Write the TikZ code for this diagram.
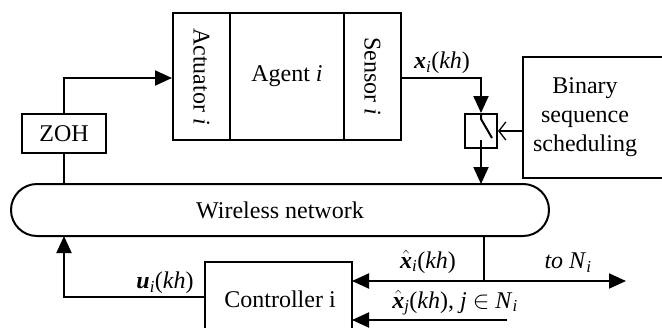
\documentclass[tikz,border=0pt]{standalone}
\usepackage{fontspec}
\setmainfont{Liberation Serif}
\usetikzlibrary{arrows.meta}
\newcommand{\bxi}{\textbf{\textit{x}}}
\newcommand{\bhx}{$\hat{\hbox{\bxi}}$}
\begin{document}
\begin{tikzpicture}[x=1pt,y=-1pt,
  every node/.style={font=\fontsize{24}{27}\selectfont, inner sep=0pt},
  blk/.style={draw, line width=2pt, rectangle},
  ln/.style={line width=2pt},
  arr/.style={ln, -{Triangle[length=17pt,width=15pt]}},
  barr/.style={line width=1.3pt, -{Straight Barb[length=7pt,width=18pt]}},
  lbl/.style={font=\fontsize{24}{27}\selectfont}]
\useasboundingbox (0,0) rectangle (662,327);
% agent group
\node[blk, minimum width=57pt, minimum height=127pt] (act) at (201.5,76.5) {};
\node[rotate=-90] (acttxt) at (act.center) {Actuator \textit{i}};
\node[blk, minimum width=114pt, minimum height=127pt] (agent) at (287,76.5) {Agent \textit{i}};
\node[blk, minimum width=57pt, minimum height=127pt] (sens) at (372.5,76.5) {};
\node[rotate=-90] (senstxt) at (sens.center) {Sensor \textit{i}};
% ZOH
\node[blk, minimum width=84pt, minimum height=39pt] (zoh) at (64,133.5) {ZOH};
% network
\draw[ln, rounded corners=26pt] (11,184) rectangle (549,236);
\node (net) at (280,210) {Wireless network};
\coordinate (nettopL) at (64,184);
\coordinate (nettopR) at (481,184);
\coordinate (netbotL) at (64,236);
\coordinate (netbotR) at (484,236);
% switch
\node[blk, minimum width=32pt, minimum height=34pt] (sw) at (481,131) {};
\coordinate (swa) at (481,119);
\coordinate (swb) at (492,138);
\draw[ln] (sw.north) -- (swa) -- (swb);
% binary scheduling
\draw[line width=2pt] (670,57) -- (523,57) -- (523,178) -- (670,178);
\coordinate (binw) at (523,131);
\node[align=center, font=\fontsize{24}{29}\selectfont] (bin) at (585,117) {Binary\\sequence\\scheduling};
% controller
\draw[line width=2pt] (205,340) -- (205,262) -- (352,262) -- (352,340);
\node (ctrl) at (280,299) {Controller i};
\coordinate (ctrlin1) at (352,281);
\coordinate (ctrlin2) at (352,320);
\coordinate (ctrlout) at (205,297);
% connectors
\draw[arr] (zoh.north) |- (act.west |- 0,78);
\draw[ln] (zoh.south) -- (nettopL);
\draw[arr] (sens.east |- 0,78) -| (sw.north);
\draw[barr] (binw) -- (sw.east);
\draw[arr] (481,140) -- (nettopR);
\coordinate (junc) at (484,281);
\coordinate (toN) at (626,281);
\coordinate (xjstart) at (507,320);
\draw[ln] (netbotR) -- (junc);
\draw[arr] (junc) -- (ctrlin1);
\draw[arr] (junc) -- (toN);
\draw[arr] (xjstart) -- (ctrlin2);
\draw[arr] (ctrlout) -| (netbotL);
% labels
\node[lbl] (lx) at (442,63) {\bxi\textsubscript{\textit{i}}(\textit{kh})};
\node[lbl] (lxh) at (428,262) {\bhx\textsubscript{\textit{i}}(\textit{kh})};
\node[lbl] (lto) at (568,263) {\textit{to N}\textsubscript{\textit{i}}};
\node[lbl] (lxj) at (455,303) {\bhx\textsubscript{\textit{j}}(\textit{kh}), \textit{j} $\in$ \textit{N}\textsubscript{\textit{i}}};
\node[lbl] (lu) at (165,283) {\textbf{\textit{u}}\textsubscript{\textit{i}}(\textit{kh})};
\end{tikzpicture}
\end{document}
